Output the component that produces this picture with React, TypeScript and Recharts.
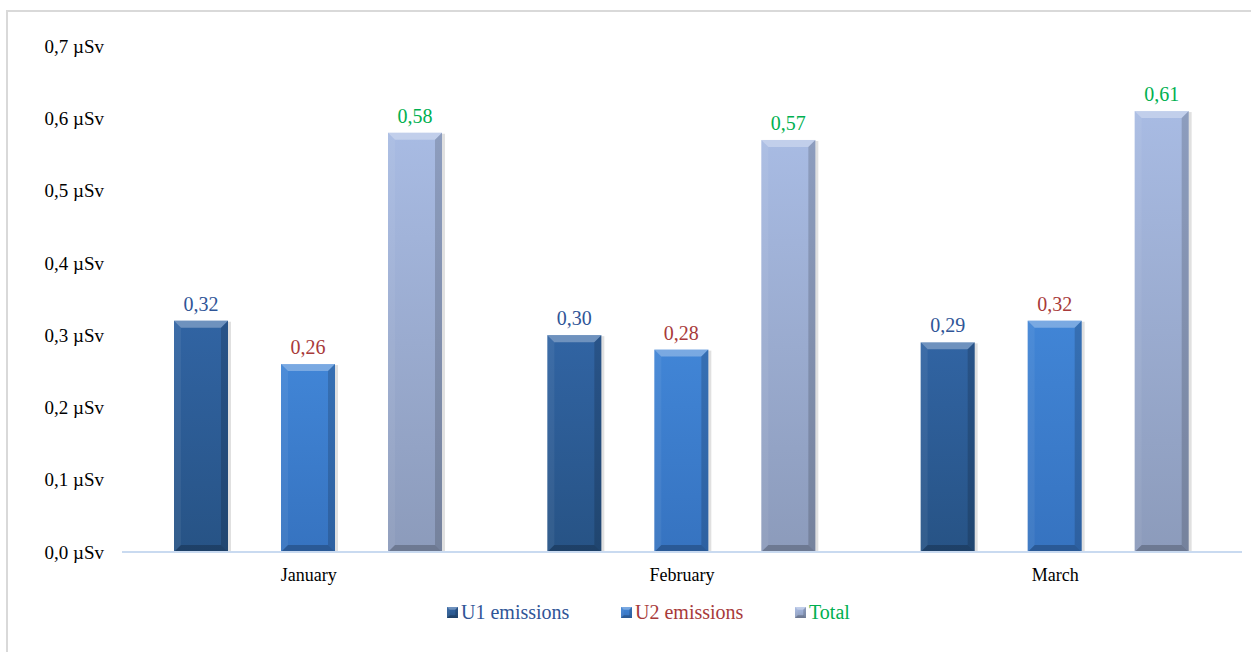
import { Bar, BarChart, LabelList, Legend, XAxis, YAxis } from "recharts";

const months = ["January", "February", "March"];
const u1Emissions = [0.32, 0.3, 0.29];
const u2Emissions = [0.26, 0.28, 0.32];
const totals = [0.58, 0.57, 0.61];
const yTicks = [0, 0.1, 0.2, 0.3, 0.4, 0.5, 0.6, 0.7];

const data = months.map((month, i) => ({
  month,
  u1: u1Emissions[i],
  u2: u2Emissions[i],
  total: totals[i]
}));

const FONT = "'Liberation Serif', 'Times New Roman', serif";

const series = [
  { key: "u1", name: "U1 emissions", grad: "gradU1", text: "#2f5597" },
  { key: "u2", name: "U2 emissions", grad: "gradU2", text: "#a83a3a" },
  { key: "total", name: "Total", grad: "gradTotal", text: "#00b050" }
];

const fmt = (v: number) => v.toFixed(2).replace(".", ",");

function BevelBar(props: any) {
  const { x, y, width, height, gradId } = props;
  if (!height || height <= 0) return null;
  const b = Math.min(7, width / 4, height / 4);
  const x2 = x + width;
  const y2 = y + height;
  return (
    <g>
      <rect x={x + 1} y={y + 1} width={width + 2} height={height} fill="rgba(0,0,0,0.12)" />
      <rect x={x} y={y} width={width} height={height} fill={`url(#${gradId})`} />
      <polygon
        points={`${x},${y} ${x2},${y} ${x2 - b},${y + b} ${x + b},${y + b}`}
        fill="rgba(255,255,255,0.3)"
      />
      <polygon
        points={`${x},${y} ${x + b},${y + b} ${x + b},${y2 - b} ${x},${y2}`}
        fill="rgba(255,255,255,0.06)"
      />
      <polygon
        points={`${x2},${y} ${x2},${y2} ${x2 - b},${y2 - b} ${x2 - b},${y + b}`}
        fill="rgba(0,0,0,0.16)"
      />
      <polygon
        points={`${x},${y2} ${x + b},${y2 - b} ${x2 - b},${y2 - b} ${x2},${y2}`}
        fill="rgba(0,0,0,0.22)"
      />
    </g>
  );
}

function LegendContent() {
  return (
    <div style={{ display: "flex", alignItems: "center", height: 40, fontFamily: FONT, fontSize: 20 }}>
      {series.map((s, i) => (
        <div key={s.key} style={{ display: "flex", alignItems: "center", width: i < 2 ? 174 : 100 }}>
          <svg width={11} height={11} style={{ marginRight: 3 }}>
            <BevelBar x={0} y={0} width={11} height={11} gradId={s.grad} />
          </svg>
          <span style={{ color: s.text }}>{s.name}</span>
        </div>
      ))}
    </div>
  );
}

export default function App() {
  return (
    <div style={{ position: "absolute", left: 0, top: 0, width: 1251, height: 652, overflow: "hidden", background: "#fff" }}>
      <div
        style={{
          position: "absolute",
          left: 6,
          top: 10,
          width: 1300,
          height: 700,
          borderLeft: "2px solid #d9d9d9",
          borderTop: "2px solid #d9d9d9"
        }}
      />
      <svg width={0} height={0} style={{ position: "absolute" }}>
        <defs>
          <linearGradient id="gradU1" x1="0" y1="0" x2="0" y2="1">
            <stop offset="0%" stopColor="#3164a3" />
            <stop offset="100%" stopColor="#275385" />
          </linearGradient>
          <linearGradient id="gradU2" x1="0" y1="0" x2="0" y2="1">
            <stop offset="0%" stopColor="#4185d6" />
            <stop offset="100%" stopColor="#3673c0" />
          </linearGradient>
          <linearGradient id="gradTotal" x1="0" y1="0" x2="0" y2="1">
            <stop offset="0%" stopColor="#a8bbe3" />
            <stop offset="100%" stopColor="#8c9bbb" />
          </linearGradient>
        </defs>
      </svg>
      <div style={{ position: "absolute", left: 0, top: 0 }}>
        <BarChart
          width={1251}
          height={652}
          data={data}
          margin={{ top: 46, right: 9, bottom: 20, left: 22 }}
          barCategoryGap={52}
          barGap={53}
        >
          <XAxis
            dataKey="month"
            height={40}
            tickLine={false}
            axisLine={{ stroke: "#c9daf0", strokeWidth: 2 }}
            tick={{ fill: "#000", fontSize: 18, fontFamily: FONT }}
            tickMargin={10}
          />
          <YAxis
            width={100}
            domain={[0, 0.7]}
            ticks={yTicks}
            axisLine={false}
            tickLine={false}
            tickMargin={12}
            tickFormatter={(v: number) => `${v.toFixed(1).replace(".", ",")} µSv`}
            tick={{ fill: "#000", fontSize: 19, fontFamily: FONT }}
          />
          <Legend
            verticalAlign="bottom"
            content={<LegendContent />}
            wrapperStyle={{ left: 447, width: 500, height: 40 }}
          />
          {series.map((s) => (
            <Bar
              key={s.key}
              dataKey={s.key}
              name={s.name}
              fill={s.text}
              isAnimationActive={false}
              shape={(p: any) => <BevelBar {...p} gradId={s.grad} />}
            >
              <LabelList
                dataKey={s.key}
                position="top"
                offset={10}
                formatter={(v: any) => fmt(Number(v))}
                style={{ fill: s.text, fontSize: 20, fontFamily: FONT }}
              />
            </Bar>
          ))}
        </BarChart>
      </div>
    </div>
  );
}
